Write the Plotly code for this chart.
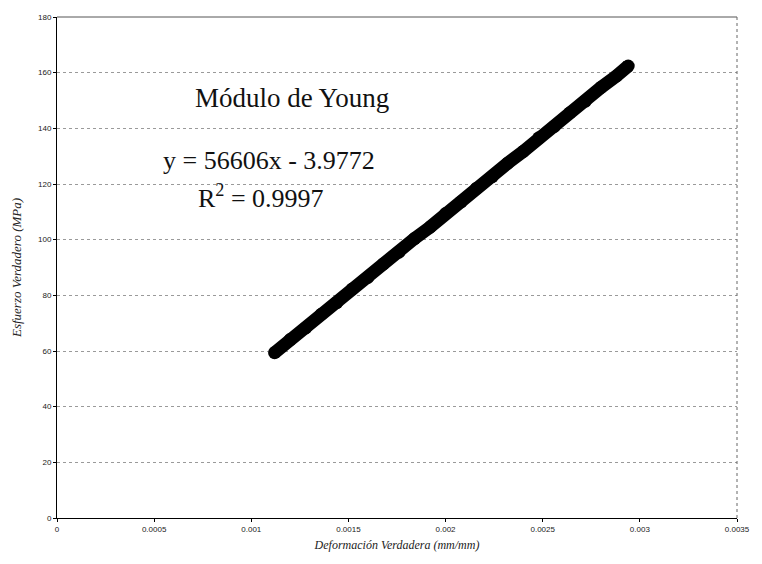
import plotly.graph_objects as go

# True strain (mm/mm) and true stress (MPa) in the elastic region
strain = [0.00112, 0.00120, 0.00128, 0.00136, 0.00144, 0.00152, 0.00160, 0.00168,
          0.00176, 0.00184, 0.00192, 0.00200, 0.00208, 0.00216, 0.00224, 0.00232,
          0.00240, 0.00248, 0.00256, 0.00264, 0.00272, 0.00280, 0.00288, 0.00294]
stress = [59.4, 64.1, 68.3, 73.2, 77.4, 82.3, 86.4, 91.3, 95.5, 100.4, 104.5, 109.4,
          113.6, 118.5, 122.6, 127.5, 131.7, 136.6, 140.7, 145.6, 149.8, 154.7, 158.8, 162.4]

x_ticks = [0, 0.0005, 0.001, 0.0015, 0.002, 0.0025, 0.003, 0.0035]
x_tick_text = ["0", "0.0005", "0.001", "0.0015", "0.002", "0.0025", "0.003", "0.0035"]
y_ticks = [0, 20, 40, 60, 80, 100, 120, 140, 160, 180]

title_text = "Módulo de Young"
eq_text = "y = 56606x - 3.9772"
r2_text = "R<sup>2</sup> = 0.9997"

serif = "Liberation Serif, Times New Roman, serif"
sans = "Liberation Sans, Arial, sans-serif"

fig = go.Figure()
fig.add_trace(go.Scatter(
    x=strain, y=stress, mode="lines+markers",
    line=dict(color="#000000", width=13),
    marker=dict(color="#000000", size=13),
    showlegend=False, hoverinfo="skip",
))

fig.update_layout(
    width=762, height=564,
    margin=dict(l=57, r=19, t=17, b=46),
    paper_bgcolor="white", plot_bgcolor="white",
    xaxis=dict(
        range=[0, 0.0035], tickvals=x_ticks, ticktext=x_tick_text,
        showgrid=False, zeroline=False,
        showline=True, linecolor="#000000", linewidth=1,
        ticks="outside", ticklen=3, tickcolor="#000000",
        tickfont=dict(family=sans, size=8, color="#222222"),
        title=dict(text="<i>Deformación Verdadera (mm/mm)</i>",
                   font=dict(family=serif, size=12, color="#222222"), standoff=8),
    ),
    yaxis=dict(
        range=[0, 180], tickvals=y_ticks,
        showgrid=True, gridcolor="#9a9a9a", griddash="dot", gridwidth=1,
        zeroline=False,
        showline=True, linecolor="#000000", linewidth=1,
        ticks="outside", ticklen=3, tickcolor="#000000",
        tickfont=dict(family=sans, size=8, color="#222222"),
        title=dict(text="<i>Esfuerzo Verdadero (MPa)</i>",
                   font=dict(family=serif, size=13, color="#222222"), standoff=13),
    ),
    shapes=[
        dict(type="line", xref="paper", yref="paper", x0=0, x1=1, y0=1, y1=1,
             line=dict(color="#555555", width=1)),
        dict(type="line", xref="paper", yref="paper", x0=1, x1=1, y0=0, y1=1,
             line=dict(color="#666666", width=1, dash="dot")),
    ],
    annotations=[
        dict(text=title_text, x=0.00121, y=151, xref="x", yref="y", showarrow=False,
             font=dict(family=serif, size=27, color="#111111")),
        dict(text=eq_text, x=0.00109, y=128.5, xref="x", yref="y", showarrow=False,
             font=dict(family=serif, size=26, color="#111111")),
        dict(text=r2_text, x=0.00105, y=115.5, xref="x", yref="y", showarrow=False,
             font=dict(family=serif, size=26, color="#111111")),
    ],
)

fig.write_html("out.html")
